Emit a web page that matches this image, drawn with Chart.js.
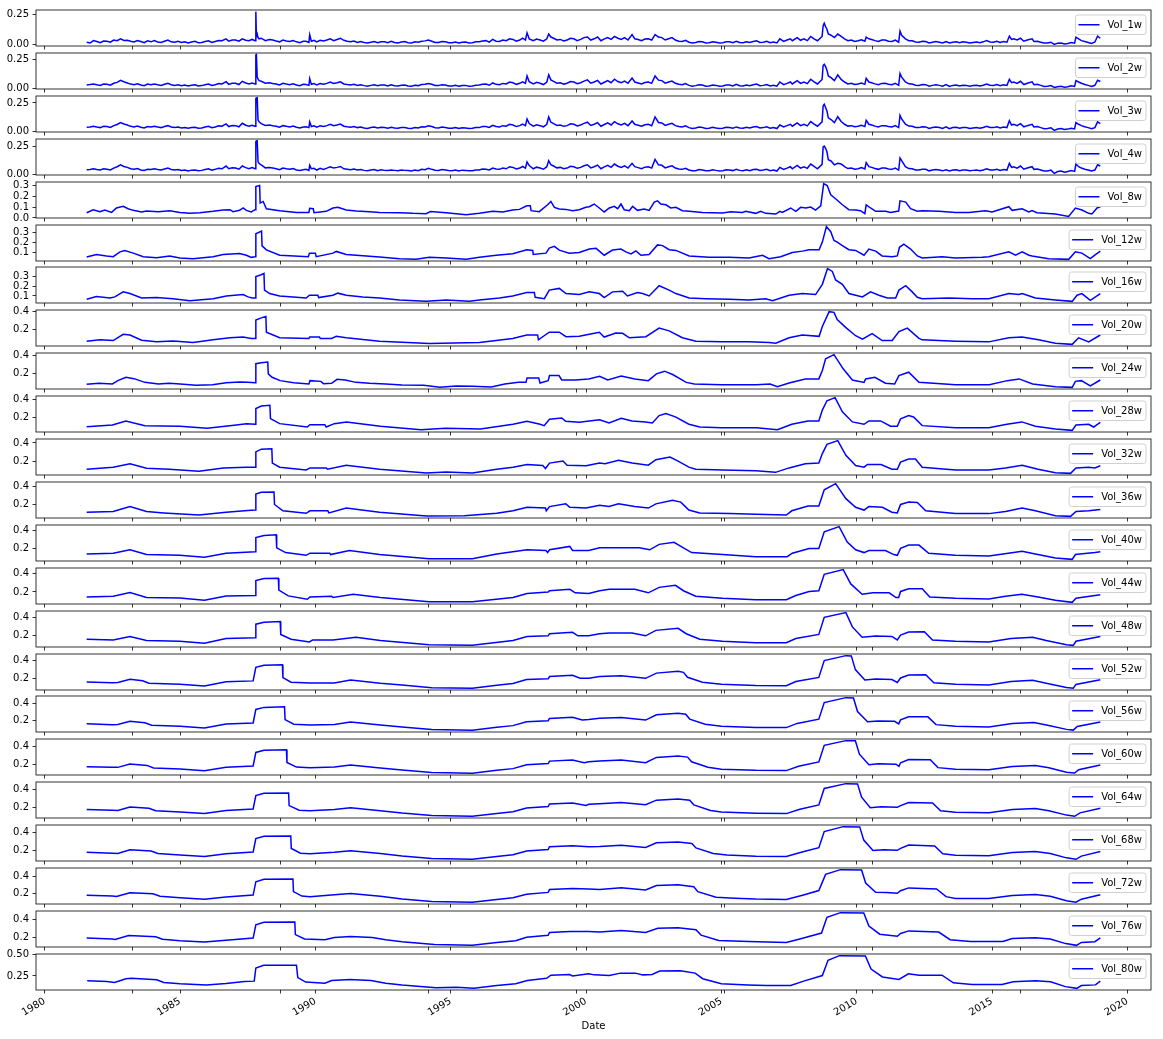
<!DOCTYPE html>
<html>
<head>
<meta charset="utf-8">
<script src="https://cdn.jsdelivr.net/npm/chart.js@4.4.0/dist/chart.umd.min.js"></script>
<style>
  body { margin: 0; background: #fff; }
  #wrap { position: relative; width: 1163px; height: 1039px; overflow: hidden; }
  #wrap canvas { position: absolute; left: 0; }
</style>
</head>
<body>
<div id="wrap"></div>
<script>
// Values (x = decimal year)

// Short windows share one date grid
const shortDates = [
  1981.55, 1981.80,
  1982.05, 1982.30, 1982.55, 1982.80,
  1983.05, 1983.30, 1983.55, 1983.80,
  1984.05, 1984.30, 1984.55, 1984.80,
  1985.05, 1985.30, 1985.55, 1985.80,
  1986.05, 1986.30, 1986.55, 1986.70, 1986.80,
  1987.05, 1987.30, 1987.55, 1987.77, 1987.80, 1987.82, 1987.85, 1987.88, 1987.92, 1988.00,
  1988.30, 1988.55, 1988.80,
  1989.05, 1989.30, 1989.55, 1989.76, 1989.79, 1989.85,
  1990.05, 1990.30, 1990.55, 1990.80,
  1991.05, 1991.30, 1991.55, 1991.80,
  1992.05, 1992.30, 1992.55, 1992.80,
  1993.05, 1993.30, 1993.55, 1993.80,
  1994.05, 1994.30, 1994.55, 1994.80,
  1995.05, 1995.30, 1995.55, 1995.80,
  1996.05, 1996.30, 1996.55, 1996.80,
  1997.05, 1997.30, 1997.55, 1997.76, 1997.82, 1997.90,
  1998.05, 1998.30, 1998.55, 1998.62, 1998.70, 1998.80,
  1999.05, 1999.30, 1999.55, 1999.80,
  2000.05, 2000.30, 2000.55, 2000.80,
  2001.05, 2001.30, 2001.55, 2001.70, 2001.80,
  2002.05, 2002.30, 2002.55, 2002.80,
  2003.05, 2003.30, 2003.55, 2003.80,
  2004.05, 2004.30, 2004.55, 2004.80,
  2005.05, 2005.30, 2005.55, 2005.80,
  2006.05, 2006.30, 2006.55, 2006.80,
  2007.05, 2007.16, 2007.30, 2007.55, 2007.62, 2007.80,
  2008.05, 2008.30, 2008.55, 2008.72, 2008.76, 2008.80, 2008.85, 2008.90, 2008.95,
  2009.05, 2009.30, 2009.55, 2009.80,
  2010.05, 2010.30, 2010.35, 2010.45, 2010.55, 2010.80,
  2011.05, 2011.30, 2011.55, 2011.60, 2011.66, 2011.80,
  2012.05, 2012.30, 2012.55, 2012.80,
  2013.05, 2013.30, 2013.55, 2013.80,
  2014.05, 2014.30, 2014.55, 2014.80,
  2015.05, 2015.30, 2015.55, 2015.64, 2015.72, 2015.80,
  2016.05, 2016.30, 2016.48, 2016.55, 2016.80,
  2017.05, 2017.30, 2017.55, 2017.80,
  2018.05, 2018.10, 2018.20, 2018.30, 2018.55, 2018.80, 2018.90, 2019.00
];

// in-between dates, for the week-to-week wobble of the short windows
const shortMidDates = [
  1981.675, 1981.925,
  1982.175, 1982.425, 1982.675, 1982.925,
  1983.175, 1983.425, 1983.675, 1983.925,
  1984.175, 1984.425, 1984.675, 1984.925,
  1985.175, 1985.425, 1985.675, 1985.925,
  1986.175, 1986.425, 1986.925,
  1987.175, 1987.425, 1987.66, 1988.15,
  1988.425, 1988.675, 1988.925,
  1989.175, 1989.425, 1989.655, 1989.95,
  1990.175, 1990.425, 1990.675, 1990.925,
  1991.175, 1991.425, 1991.675, 1991.925,
  1992.175, 1992.425, 1992.675, 1992.925,
  1993.175, 1993.425, 1993.675, 1993.925,
  1994.175, 1994.425, 1994.675, 1994.925,
  1995.175, 1995.425, 1995.675, 1995.925,
  1996.175, 1996.425, 1996.675, 1996.925,
  1997.175, 1997.425, 1997.655,
  1998.175, 1998.425, 1998.925,
  1999.175, 1999.425, 1999.675, 1999.925,
  2000.175, 2000.425, 2000.675, 2000.925,
  2001.175, 2001.425, 2001.925,
  2002.175, 2002.425, 2002.675, 2002.925,
  2003.175, 2003.425, 2003.675, 2003.925,
  2004.175, 2004.425, 2004.675, 2004.925,
  2005.175, 2005.425, 2005.675, 2005.925,
  2006.175, 2006.425, 2006.675, 2006.925,
  2007.425, 2007.925,
  2008.175, 2008.425,
  2009.175, 2009.425, 2009.675, 2009.925,
  2010.175, 2010.675, 2010.925,
  2011.175, 2011.425, 2011.925,
  2012.175, 2012.425, 2012.675, 2012.925,
  2013.175, 2013.425, 2013.675, 2013.925,
  2014.175, 2014.425, 2014.675, 2014.925,
  2015.175, 2015.425, 2015.925,
  2016.175, 2016.675, 2016.925,
  2017.175, 2017.425, 2017.675, 2017.925,
  2018.425, 2018.675
];

const vol1w = [
  0.022, 0.035,
  0.018, 0.030, 0.040, 0.050,
  0.038, 0.024, 0.028, 0.033,
  0.035, 0.020, 0.040, 0.022,
  0.020, 0.015, 0.030, 0.020,
  0.033, 0.028, 0.034, 0.050, 0.030,
  0.040, 0.050, 0.034, 0.035, 0.276, 0.070, 0.090, 0.060, 0.050, 0.055,
  0.045, 0.032, 0.040,
  0.028, 0.025, 0.030, 0.020, 0.084, 0.030,
  0.025, 0.032, 0.050, 0.045,
  0.038, 0.025, 0.020, 0.020,
  0.022, 0.018, 0.025, 0.030,
  0.016, 0.028, 0.015, 0.022,
  0.033, 0.030, 0.020, 0.026,
  0.018, 0.015, 0.024, 0.018,
  0.026, 0.035, 0.045, 0.028,
  0.034, 0.045, 0.040, 0.040, 0.100, 0.050,
  0.035, 0.040, 0.050, 0.090, 0.065, 0.055,
  0.045, 0.040, 0.050, 0.045,
  0.065, 0.050, 0.034, 0.060,
  0.070, 0.045, 0.040, 0.085, 0.050,
  0.035, 0.050, 0.085, 0.060,
  0.050, 0.040, 0.028, 0.022,
  0.020, 0.026, 0.018, 0.022,
  0.018, 0.025, 0.030, 0.018,
  0.020, 0.034, 0.022, 0.018,
  0.016, 0.050, 0.028, 0.050, 0.034, 0.060,
  0.050, 0.070, 0.034, 0.070, 0.160, 0.180, 0.150, 0.130, 0.090,
  0.080, 0.090, 0.050, 0.040,
  0.034, 0.030, 0.064, 0.050, 0.045, 0.028,
  0.040, 0.028, 0.022, 0.115, 0.080, 0.050,
  0.034, 0.022, 0.028, 0.022,
  0.022, 0.028, 0.022, 0.018,
  0.022, 0.020, 0.018, 0.035,
  0.022, 0.020, 0.022, 0.073, 0.045, 0.050,
  0.055, 0.040, 0.050, 0.028, 0.022,
  0.015, 0.004, 0.015, 0.012,
  0.014, 0.064, 0.050, 0.035, 0.020, 0.024, 0.073, 0.055
];
const vol1wMid = [
  0.015, 0.028,
  0.032, 0.022, 0.034, 0.036,
  0.030, 0.036, 0.018, 0.025,
  0.024, 0.030, 0.025, 0.030,
  0.026, 0.024, 0.018, 0.028,
  0.020, 0.036, 0.040,
  0.030, 0.038, 0.045, 0.035,
  0.040, 0.025, 0.032,
  0.035, 0.018, 0.030, 0.038,
  0.038, 0.040, 0.035, 0.055,
  0.030, 0.032, 0.028, 0.015,
  0.028, 0.025, 0.018, 0.020,
  0.024, 0.018, 0.025, 0.030,
  0.040, 0.020, 0.028, 0.018,
  0.024, 0.022, 0.016, 0.025,
  0.032, 0.022, 0.030, 0.040,
  0.050, 0.030, 0.055,
  0.048, 0.030, 0.040,
  0.032, 0.055, 0.035, 0.060,
  0.040, 0.065, 0.050, 0.045,
  0.055, 0.060, 0.045,
  0.048, 0.040, 0.065, 0.040,
  0.060, 0.030, 0.038, 0.015,
  0.028, 0.016, 0.026, 0.015,
  0.026, 0.018, 0.020, 0.026,
  0.028, 0.020, 0.030, 0.024,
  0.040, 0.038,
  0.035, 0.050,
  0.060, 0.070, 0.035, 0.028,
  0.042, 0.035, 0.040,
  0.030, 0.040, 0.035,
  0.024, 0.030, 0.016, 0.028,
  0.016, 0.015, 0.026, 0.025,
  0.016, 0.024, 0.025, 0.024,
  0.030, 0.028, 0.040,
  0.030, 0.030, 0.015,
  0.022, 0.014, 0.008, 0.020,
  0.028, 0.012
];

const vol2w = [
  0.032, 0.041,
  0.029, 0.038, 0.047, 0.073,
  0.050, 0.035, 0.032, 0.041,
  0.041, 0.029, 0.047, 0.029,
  0.027, 0.024, 0.035, 0.027,
  0.041, 0.035, 0.041, 0.061, 0.038,
  0.047, 0.064, 0.041, 0.041, 0.290, 0.293, 0.100, 0.085, 0.070, 0.064,
  0.052, 0.041, 0.047,
  0.035, 0.032, 0.038, 0.029, 0.087, 0.038,
  0.032, 0.038, 0.058, 0.052,
  0.041, 0.032, 0.029, 0.027,
  0.029, 0.027, 0.032, 0.035,
  0.024, 0.032, 0.022, 0.027,
  0.038, 0.038, 0.027, 0.032,
  0.024, 0.022, 0.029, 0.024,
  0.032, 0.041, 0.050, 0.035,
  0.041, 0.052, 0.047, 0.047, 0.110, 0.061,
  0.041, 0.047, 0.058, 0.120, 0.076, 0.064,
  0.052, 0.047, 0.058, 0.052,
  0.076, 0.058, 0.041, 0.070,
  0.082, 0.052, 0.047, 0.093, 0.058,
  0.041, 0.058, 0.110, 0.070,
  0.058, 0.047, 0.035, 0.029,
  0.027, 0.032, 0.024, 0.029,
  0.024, 0.032, 0.038, 0.024,
  0.027, 0.041, 0.029, 0.024,
  0.022, 0.058, 0.035, 0.058, 0.041, 0.070,
  0.058, 0.082, 0.041, 0.080, 0.200, 0.210, 0.190, 0.160, 0.110,
  0.095, 0.120, 0.058, 0.047,
  0.041, 0.038, 0.090, 0.058, 0.052, 0.035,
  0.047, 0.035, 0.029, 0.131, 0.100, 0.058,
  0.041, 0.029, 0.035, 0.029,
  0.029, 0.035, 0.029, 0.024,
  0.029, 0.027, 0.024, 0.041,
  0.029, 0.027, 0.029, 0.080, 0.052, 0.058,
  0.064, 0.047, 0.060, 0.035, 0.029,
  0.022, 0.012, 0.022, 0.018,
  0.020, 0.070, 0.058, 0.047, 0.029, 0.030, 0.073, 0.062
];
const vol2wMid = [
  0.036, 0.034,
  0.040, 0.030, 0.055, 0.060,
  0.040, 0.042, 0.026, 0.034,
  0.034, 0.038, 0.034, 0.034,
  0.032, 0.030, 0.024, 0.034,
  0.028, 0.044, 0.048,
  0.036, 0.050, 0.050, 0.048,
  0.046, 0.032, 0.040,
  0.042, 0.026, 0.036, 0.045,
  0.044, 0.046, 0.045, 0.060,
  0.036, 0.038, 0.034, 0.022,
  0.034, 0.032, 0.024, 0.026,
  0.030, 0.024, 0.030, 0.036,
  0.045, 0.028, 0.034, 0.024,
  0.030, 0.028, 0.022, 0.030,
  0.038, 0.030, 0.038, 0.046,
  0.058, 0.038, 0.060,
  0.055, 0.036, 0.048,
  0.040, 0.062, 0.044, 0.066,
  0.048, 0.072, 0.056, 0.052,
  0.062, 0.066, 0.050,
  0.054, 0.046, 0.074, 0.048,
  0.066, 0.038, 0.044, 0.022,
  0.034, 0.022, 0.032, 0.021,
  0.032, 0.024, 0.026, 0.032,
  0.034, 0.026, 0.036, 0.030,
  0.046, 0.046,
  0.044, 0.060,
  0.070, 0.080, 0.042, 0.036,
  0.050, 0.042, 0.046,
  0.038, 0.046, 0.042,
  0.030, 0.036, 0.022, 0.034,
  0.022, 0.020, 0.032, 0.030,
  0.022, 0.030, 0.030, 0.030,
  0.036, 0.034, 0.046,
  0.036, 0.038, 0.020,
  0.028, 0.018, 0.014, 0.026,
  0.036, 0.020
];

const vol3w = [
  0.038, 0.047,
  0.035, 0.044, 0.052, 0.079,
  0.058, 0.041, 0.038, 0.044,
  0.047, 0.035, 0.052, 0.035,
  0.032, 0.029, 0.038, 0.032,
  0.047, 0.041, 0.047, 0.067, 0.044,
  0.052, 0.073, 0.047, 0.047, 0.290, 0.294, 0.296, 0.100, 0.085, 0.070,
  0.058, 0.047, 0.052,
  0.041, 0.038, 0.041, 0.035, 0.085, 0.044,
  0.038, 0.044, 0.064, 0.058,
  0.047, 0.038, 0.035, 0.032,
  0.035, 0.032, 0.035, 0.038,
  0.029, 0.035, 0.027, 0.032,
  0.041, 0.044, 0.032, 0.035,
  0.029, 0.027, 0.032, 0.029,
  0.035, 0.044, 0.055, 0.041,
  0.047, 0.058, 0.052, 0.052, 0.110, 0.070,
  0.047, 0.052, 0.064, 0.128, 0.082, 0.070,
  0.058, 0.052, 0.064, 0.058,
  0.082, 0.064, 0.047, 0.076,
  0.087, 0.058, 0.052, 0.093, 0.064,
  0.047, 0.064, 0.128, 0.076,
  0.064, 0.052, 0.041, 0.035,
  0.032, 0.035, 0.029, 0.032,
  0.029, 0.035, 0.041, 0.029,
  0.032, 0.044, 0.035, 0.029,
  0.027, 0.058, 0.041, 0.064, 0.047, 0.076,
  0.064, 0.087, 0.047, 0.085, 0.225, 0.238, 0.210, 0.180, 0.120,
  0.105, 0.130, 0.064, 0.052,
  0.047, 0.044, 0.099, 0.064, 0.058, 0.041,
  0.052, 0.041, 0.035, 0.142, 0.110, 0.064,
  0.047, 0.035, 0.041, 0.035,
  0.035, 0.041, 0.035, 0.029,
  0.035, 0.032, 0.029, 0.047,
  0.035, 0.032, 0.035, 0.096, 0.058, 0.064,
  0.070, 0.052, 0.064, 0.041, 0.035,
  0.027, 0.011, 0.027, 0.022,
  0.024, 0.079, 0.064, 0.052, 0.035, 0.035, 0.085, 0.070
];
const vol3wMid = [
  0.040, 0.040,
  0.046, 0.036, 0.062, 0.066,
  0.046, 0.048, 0.032, 0.040,
  0.040, 0.044, 0.040, 0.040,
  0.036, 0.035, 0.029, 0.040,
  0.034, 0.050, 0.054,
  0.042, 0.056, 0.056, 0.054,
  0.052, 0.038, 0.046,
  0.048, 0.032, 0.042, 0.050,
  0.050, 0.052, 0.052, 0.066,
  0.042, 0.044, 0.040, 0.028,
  0.040, 0.038, 0.030, 0.032,
  0.036, 0.030, 0.036, 0.042,
  0.050, 0.034, 0.040, 0.030,
  0.036, 0.034, 0.028, 0.036,
  0.044, 0.036, 0.044, 0.052,
  0.064, 0.044, 0.066,
  0.060, 0.042, 0.054,
  0.046, 0.068, 0.050, 0.072,
  0.054, 0.078, 0.062, 0.058,
  0.068, 0.072, 0.056,
  0.060, 0.052, 0.080, 0.054,
  0.072, 0.044, 0.050, 0.028,
  0.040, 0.028, 0.038, 0.027,
  0.038, 0.030, 0.032, 0.038,
  0.040, 0.032, 0.042, 0.036,
  0.052, 0.052,
  0.050, 0.066,
  0.078, 0.088, 0.048, 0.042,
  0.056, 0.048, 0.052,
  0.044, 0.052, 0.048,
  0.036, 0.042, 0.028, 0.040,
  0.028, 0.026, 0.038, 0.036,
  0.028, 0.036, 0.036, 0.036,
  0.042, 0.040, 0.052,
  0.042, 0.044, 0.026,
  0.034, 0.022, 0.018, 0.030,
  0.042, 0.026
];

const vol4w = [
  0.044, 0.052,
  0.041, 0.047, 0.058, 0.087,
  0.064, 0.047, 0.041, 0.047,
  0.052, 0.041, 0.058, 0.041,
  0.038, 0.032, 0.041, 0.038,
  0.052, 0.047, 0.052, 0.076, 0.052,
  0.058, 0.076, 0.052, 0.052, 0.290, 0.295, 0.297, 0.115, 0.099, 0.085,
  0.064, 0.052, 0.058,
  0.047, 0.041, 0.044, 0.038, 0.082, 0.052,
  0.041, 0.047, 0.070, 0.064,
  0.052, 0.044, 0.041, 0.038,
  0.041, 0.035, 0.038, 0.041,
  0.035, 0.038, 0.032, 0.035,
  0.044, 0.047, 0.038, 0.041,
  0.035, 0.032, 0.038, 0.035,
  0.041, 0.047, 0.058, 0.047,
  0.052, 0.064, 0.058, 0.058, 0.111, 0.080,
  0.052, 0.058, 0.070, 0.122, 0.087, 0.076,
  0.064, 0.058, 0.070, 0.064,
  0.087, 0.070, 0.052, 0.082,
  0.093, 0.064, 0.058, 0.099, 0.070,
  0.052, 0.070, 0.134, 0.082,
  0.070, 0.058, 0.047, 0.041,
  0.035, 0.041, 0.035, 0.038,
  0.035, 0.041, 0.047, 0.035,
  0.035, 0.047, 0.041, 0.035,
  0.032, 0.064, 0.047, 0.070, 0.052, 0.082,
  0.070, 0.093, 0.052, 0.090, 0.242, 0.250, 0.230, 0.200, 0.130,
  0.120, 0.100, 0.070, 0.058,
  0.052, 0.050, 0.105, 0.070, 0.064, 0.047,
  0.058, 0.047, 0.041, 0.146, 0.122, 0.070,
  0.052, 0.041, 0.047, 0.041,
  0.041, 0.044, 0.041, 0.035,
  0.041, 0.038, 0.035, 0.052,
  0.041, 0.038, 0.041, 0.099, 0.064, 0.070,
  0.076, 0.058, 0.070, 0.047, 0.041,
  0.032, 0.012, 0.032, 0.029,
  0.029, 0.093, 0.070, 0.058, 0.041, 0.041, 0.087, 0.076
];
const vol4wMid = [
  0.046, 0.046,
  0.052, 0.042, 0.070, 0.072,
  0.052, 0.054, 0.038, 0.046,
  0.046, 0.050, 0.046, 0.046,
  0.042, 0.040, 0.034, 0.046,
  0.040, 0.056, 0.060,
  0.048, 0.062, 0.062, 0.060,
  0.058, 0.044, 0.052,
  0.054, 0.038, 0.048, 0.056,
  0.056, 0.058, 0.058, 0.072,
  0.048, 0.050, 0.046, 0.034,
  0.046, 0.044, 0.036, 0.038,
  0.042, 0.036, 0.042, 0.048,
  0.056, 0.040, 0.046, 0.036,
  0.042, 0.040, 0.034, 0.042,
  0.050, 0.042, 0.050, 0.058,
  0.070, 0.050, 0.072,
  0.066, 0.048, 0.060,
  0.052, 0.074, 0.056, 0.078,
  0.060, 0.084, 0.068, 0.064,
  0.074, 0.078, 0.062,
  0.066, 0.058, 0.086, 0.060,
  0.078, 0.050, 0.056, 0.034,
  0.046, 0.034, 0.044, 0.033,
  0.044, 0.036, 0.038, 0.044,
  0.046, 0.038, 0.048, 0.042,
  0.058, 0.058,
  0.056, 0.072,
  0.086, 0.094, 0.054, 0.048,
  0.062, 0.054, 0.058,
  0.050, 0.058, 0.054,
  0.042, 0.048, 0.034, 0.046,
  0.034, 0.032, 0.044, 0.042,
  0.034, 0.042, 0.042, 0.042,
  0.048, 0.046, 0.058,
  0.048, 0.050, 0.032,
  0.040, 0.028, 0.022, 0.036,
  0.048, 0.032
];

// Longer windows as [year, value] pairs
const vol8w = [[1981.55,0.049],[1981.79,0.077],[1982.04,0.059],[1982.22,0.074],[1982.47,0.052],[1982.65,0.093],[1982.90,0.108],[1983.08,0.086],[1983.27,0.071],[1983.58,0.056],[1983.76,0.065],[1984.19,0.059],[1984.62,0.068],[1984.99,0.052],[1985.36,0.043],[1985.73,0.049],[1986.22,0.062],[1986.59,0.074],[1986.84,0.077],[1986.96,0.059],[1987.20,0.071],[1987.33,0.093],[1987.45,0.071],[1987.63,0.056],[1987.77,0.077],[1987.80,0.293],[1987.94,0.302],[1987.96,0.139],[1988.07,0.154],[1988.19,0.086],[1988.68,0.068],[1989.30,0.052],[1989.76,0.052],[1989.79,0.090],[1989.92,0.086],[1989.95,0.049],[1990.40,0.062],[1990.65,0.093],[1990.83,0.099],[1991.14,0.074],[1991.51,0.065],[1992.00,0.059],[1992.37,0.052],[1993.11,0.049],[1993.60,0.043],[1994.09,0.040],[1994.25,0.060],[1994.83,0.049],[1995.57,0.031],[1996.06,0.043],[1996.55,0.062],[1996.92,0.056],[1997.29,0.074],[1997.54,0.080],[1997.81,0.114],[1997.94,0.114],[1997.97,0.068],[1998.27,0.059],[1998.58,0.123],[1998.70,0.154],[1998.83,0.099],[1999.01,0.083],[1999.26,0.080],[1999.50,0.068],[1999.75,0.077],[1999.99,0.099],[2000.12,0.105],[2000.30,0.130],[2000.49,0.093],[2000.67,0.056],[2000.86,0.093],[2001.04,0.108],[2001.17,0.086],[2001.29,0.130],[2001.41,0.077],[2001.60,0.068],[2001.72,0.108],[2001.90,0.071],[2002.15,0.083],[2002.33,0.071],[2002.52,0.148],[2002.64,0.160],[2002.76,0.130],[2002.95,0.123],[2003.13,0.093],[2003.32,0.099],[2003.56,0.068],[2003.81,0.062],[2004.30,0.052],[2005.04,0.046],[2005.35,0.059],[2005.78,0.052],[2005.90,0.062],[2006.27,0.043],[2006.45,0.062],[2006.64,0.043],[2007.01,0.037],[2007.16,0.062],[2007.25,0.052],[2007.56,0.093],[2007.75,0.062],[2007.93,0.099],[2008.12,0.093],[2008.30,0.102],[2008.48,0.074],[2008.67,0.114],[2008.78,0.320],[2008.91,0.302],[2009.04,0.216],[2009.22,0.179],[2009.47,0.123],[2009.71,0.077],[2009.96,0.074],[2010.14,0.068],[2010.30,0.040],[2010.35,0.123],[2010.51,0.093],[2010.70,0.062],[2011.07,0.062],[2011.25,0.052],[2011.55,0.065],[2011.60,0.160],[2011.81,0.148],[2011.99,0.086],[2012.24,0.062],[2012.42,0.068],[2013.04,0.062],[2013.65,0.052],[2014.14,0.052],[2014.76,0.068],[2015.00,0.056],[2015.62,0.105],[2015.74,0.071],[2016.11,0.086],[2016.36,0.056],[2016.48,0.068],[2016.66,0.049],[2017.34,0.037],[2017.83,0.015],[2018.08,0.093],[2018.32,0.074],[2018.57,0.043],[2018.69,0.037],[2018.88,0.093],[2019.00,0.105]];

const vol12w = [[1981.55,0.059],[1981.91,0.083],[1982.28,0.069],[1982.53,0.062],[1982.78,0.110],[1982.96,0.124],[1983.27,0.097],[1983.64,0.062],[1984.13,0.052],[1984.62,0.069],[1984.99,0.048],[1985.48,0.042],[1986.22,0.062],[1986.59,0.083],[1987.20,0.093],[1987.45,0.076],[1987.63,0.055],[1987.78,0.060],[1987.80,0.290],[1988.01,0.317],[1988.03,0.170],[1988.19,0.130],[1988.68,0.076],[1989.74,0.062],[1989.78,0.097],[1990.00,0.097],[1990.03,0.062],[1990.65,0.097],[1990.77,0.114],[1991.14,0.083],[1991.88,0.069],[1992.37,0.059],[1993.11,0.042],[1993.72,0.035],[1994.21,0.056],[1994.83,0.048],[1995.57,0.035],[1996.06,0.056],[1996.68,0.076],[1997.29,0.090],[1997.81,0.131],[1998.03,0.124],[1998.05,0.083],[1998.52,0.097],[1998.64,0.148],[1998.83,0.165],[1999.01,0.127],[1999.38,0.097],[1999.75,0.103],[2000.12,0.138],[2000.37,0.145],[2000.67,0.076],[2000.98,0.128],[2001.29,0.138],[2001.47,0.110],[2001.66,0.090],[2001.84,0.120],[2002.03,0.076],[2002.33,0.083],[2002.64,0.179],[2002.83,0.172],[2003.07,0.131],[2003.32,0.124],[2003.81,0.069],[2004.55,0.055],[2005.29,0.055],[2006.02,0.048],[2006.52,0.076],[2006.76,0.042],[2007.19,0.062],[2007.62,0.103],[2007.99,0.117],[2008.24,0.131],[2008.61,0.131],[2008.73,0.207],[2008.88,0.361],[2009.04,0.310],[2009.16,0.224],[2009.28,0.207],[2009.47,0.172],[2009.71,0.131],[2009.96,0.124],[2010.27,0.076],[2010.45,0.138],[2010.70,0.117],[2010.94,0.069],[2011.31,0.062],[2011.50,0.069],[2011.58,0.155],[2011.74,0.186],[2011.99,0.138],[2012.24,0.069],[2012.42,0.048],[2013.16,0.062],[2013.65,0.048],[2014.63,0.055],[2014.88,0.062],[2015.62,0.110],[2015.87,0.076],[2016.11,0.110],[2016.36,0.076],[2016.48,0.069],[2017.09,0.042],[2017.83,0.035],[2018.08,0.110],[2018.32,0.097],[2018.63,0.042],[2018.82,0.083],[2019.00,0.117]];

const vol16w = [[1981.55,0.066],[1981.91,0.093],[1982.41,0.079],[1982.59,0.090],[1982.90,0.141],[1983.15,0.124],[1983.58,0.079],[1984.13,0.083],[1984.74,0.072],[1985.36,0.052],[1986.22,0.072],[1986.71,0.100],[1987.33,0.114],[1987.51,0.090],[1987.67,0.079],[1987.78,0.080],[1987.80,0.297],[1988.00,0.314],[1988.10,0.328],[1988.12,0.159],[1988.31,0.124],[1988.68,0.100],[1989.66,0.079],[1989.78,0.107],[1990.09,0.107],[1990.12,0.083],[1990.65,0.107],[1990.83,0.128],[1991.14,0.107],[1991.75,0.090],[1992.37,0.079],[1993.11,0.059],[1994.09,0.045],[1994.83,0.059],[1995.69,0.045],[1996.06,0.059],[1996.80,0.079],[1997.29,0.100],[1997.81,0.134],[1998.09,0.134],[1998.12,0.086],[1998.46,0.072],[1998.64,0.159],[1999.01,0.176],[1999.26,0.124],[1999.75,0.114],[2000.12,0.141],[2000.49,0.124],[2000.67,0.083],[2000.98,0.141],[2001.35,0.148],[2001.53,0.100],[2001.90,0.134],[2002.09,0.124],[2002.33,0.100],[2002.70,0.203],[2003.07,0.159],[2003.32,0.124],[2003.81,0.079],[2004.43,0.072],[2005.29,0.066],[2006.02,0.059],[2006.64,0.072],[2006.89,0.052],[2007.50,0.107],[2007.99,0.124],[2008.48,0.114],[2008.73,0.217],[2008.92,0.376],[2009.10,0.348],[2009.22,0.262],[2009.47,0.217],[2009.71,0.124],[2009.96,0.107],[2010.21,0.090],[2010.51,0.141],[2010.82,0.107],[2011.13,0.079],[2011.44,0.079],[2011.56,0.159],[2011.81,0.203],[2012.05,0.141],[2012.24,0.086],[2012.42,0.072],[2013.41,0.079],[2014.27,0.072],[2014.88,0.072],[2015.62,0.124],[2015.99,0.114],[2016.11,0.124],[2016.60,0.079],[2017.34,0.059],[2017.96,0.045],[2018.14,0.107],[2018.32,0.124],[2018.63,0.055],[2019.00,0.124]];

const vol20w = [[1981.55,0.069],[1982.04,0.084],[1982.53,0.076],[1982.90,0.146],[1983.15,0.138],[1983.58,0.080],[1984.13,0.061],[1984.74,0.072],[1985.48,0.053],[1986.22,0.084],[1986.84,0.107],[1987.33,0.115],[1987.63,0.100],[1987.78,0.100],[1987.80,0.307],[1988.00,0.330],[1988.17,0.346],[1988.19,0.169],[1988.68,0.107],[1989.76,0.100],[1989.79,0.115],[1990.15,0.115],[1990.18,0.100],[1990.60,0.100],[1990.77,0.123],[1991.14,0.107],[1992.37,0.069],[1993.20,0.058],[1994.21,0.042],[1995.10,0.047],[1996.06,0.053],[1997.29,0.100],[1997.81,0.138],[1998.21,0.138],[1998.24,0.084],[1998.64,0.169],[1999.01,0.169],[1999.26,0.119],[1999.75,0.123],[2000.12,0.146],[2000.49,0.169],[2000.67,0.115],[2001.10,0.161],[2001.35,0.157],[2001.60,0.107],[2002.21,0.119],[2002.70,0.215],[2003.07,0.184],[2003.56,0.107],[2004.06,0.069],[2005.04,0.061],[2006.02,0.061],[2006.76,0.053],[2007.01,0.046],[2007.50,0.107],[2007.99,0.138],[2008.61,0.123],[2008.73,0.234],[2008.98,0.400],[2009.16,0.392],[2009.28,0.311],[2009.59,0.223],[2009.96,0.130],[2010.21,0.092],[2010.57,0.153],[2010.94,0.076],[2011.31,0.076],[2011.56,0.176],[2011.87,0.215],[2012.30,0.100],[2012.42,0.084],[2013.65,0.069],[2014.88,0.061],[2015.62,0.107],[2016.11,0.115],[2016.72,0.084],[2017.34,0.046],[2017.96,0.033],[2018.20,0.107],[2018.57,0.061],[2019.00,0.138]];

const vol24w = [[1981.55,0.078],[1982.00,0.090],[1982.50,0.082],[1982.70,0.119],[1983.00,0.156],[1983.30,0.141],[1983.70,0.100],[1984.20,0.082],[1984.60,0.090],[1985.00,0.082],[1985.60,0.067],[1986.20,0.074],[1986.70,0.097],[1987.20,0.104],[1987.50,0.100],[1987.78,0.095],[1987.80,0.305],[1988.00,0.316],[1988.24,0.323],[1988.26,0.193],[1988.40,0.156],[1988.70,0.119],[1989.20,0.097],[1989.76,0.082],[1989.80,0.119],[1990.20,0.111],[1990.30,0.086],[1990.60,0.090],[1990.80,0.134],[1991.10,0.126],[1991.50,0.100],[1992.00,0.090],[1992.60,0.082],[1993.20,0.071],[1994.00,0.067],[1994.60,0.045],[1995.20,0.060],[1995.80,0.056],[1996.50,0.048],[1997.00,0.082],[1997.50,0.100],[1997.78,0.100],[1997.82,0.149],[1998.25,0.149],[1998.30,0.093],[1998.60,0.119],[1998.65,0.175],[1999.00,0.175],[1999.10,0.126],[1999.60,0.126],[2000.10,0.138],[2000.50,0.167],[2000.80,0.126],[2001.30,0.171],[2001.80,0.138],[2002.30,0.119],[2002.60,0.193],[2002.90,0.223],[2003.20,0.186],[2003.70,0.100],[2004.00,0.082],[2005.00,0.074],[2006.30,0.074],[2006.80,0.082],[2007.07,0.052],[2007.50,0.093],[2008.10,0.138],[2008.60,0.138],[2008.73,0.230],[2008.85,0.360],[2009.16,0.405],[2009.50,0.249],[2009.84,0.126],[2010.27,0.100],[2010.33,0.138],[2010.67,0.156],[2011.06,0.090],[2011.40,0.082],[2011.56,0.175],[2011.92,0.212],[2012.30,0.100],[2013.65,0.074],[2014.90,0.074],[2015.56,0.119],[2016.00,0.138],[2016.50,0.082],[2017.34,0.052],[2017.96,0.045],[2018.08,0.111],[2018.30,0.119],[2018.63,0.060],[2019.00,0.126]];

const vol28w = [[1981.55,0.096],[1982.50,0.114],[1983.00,0.159],[1983.70,0.107],[1985.00,0.100],[1986.00,0.077],[1987.00,0.111],[1987.45,0.129],[1987.78,0.122],[1987.80,0.296],[1988.00,0.322],[1988.32,0.330],[1988.34,0.185],[1988.68,0.129],[1989.70,0.092],[1989.80,0.118],[1990.35,0.118],[1990.40,0.092],[1990.70,0.129],[1991.15,0.148],[1992.40,0.100],[1993.90,0.062],[1994.80,0.077],[1996.10,0.070],[1997.30,0.122],[1997.82,0.155],[1998.30,0.122],[1998.45,0.107],[1998.65,0.177],[1999.10,0.192],[1999.25,0.155],[1999.75,0.144],[2000.12,0.159],[2000.50,0.172],[2000.85,0.137],[2001.30,0.189],[2001.70,0.159],[2002.20,0.148],[2002.45,0.137],[2002.70,0.218],[2002.95,0.241],[2003.30,0.203],[2003.80,0.122],[2004.20,0.092],[2005.00,0.085],[2006.30,0.085],[2007.07,0.062],[2007.60,0.122],[2008.20,0.159],[2008.60,0.159],[2008.73,0.278],[2008.90,0.381],[2009.20,0.415],[2009.47,0.259],[2009.84,0.148],[2010.27,0.122],[2010.45,0.159],[2010.88,0.159],[2011.25,0.100],[2011.50,0.100],[2011.62,0.181],[2011.92,0.218],[2012.10,0.203],[2012.42,0.107],[2013.65,0.085],[2014.88,0.085],[2015.55,0.122],[2016.10,0.148],[2016.60,0.100],[2017.34,0.070],[2017.96,0.055],[2018.10,0.114],[2018.57,0.122],[2018.75,0.092],[2019.00,0.144]];

const vol32w = [[1981.55,0.110],[1982.53,0.133],[1983.15,0.170],[1983.76,0.121],[1984.60,0.110],[1985.70,0.088],[1986.60,0.125],[1987.45,0.133],[1987.78,0.133],[1987.80,0.301],[1988.00,0.331],[1988.39,0.335],[1988.41,0.178],[1988.68,0.133],[1989.66,0.103],[1989.80,0.125],[1990.40,0.125],[1990.45,0.110],[1991.14,0.155],[1992.37,0.110],[1994.10,0.069],[1994.83,0.080],[1995.80,0.069],[1996.70,0.110],[1997.30,0.133],[1997.82,0.163],[1998.40,0.151],[1998.50,0.118],[1998.65,0.178],[1999.15,0.200],[1999.30,0.155],[2000.00,0.148],[2000.50,0.180],[2000.70,0.170],[2001.20,0.208],[2001.70,0.178],[2002.30,0.155],[2002.58,0.215],[2003.10,0.245],[2003.40,0.200],[2003.80,0.133],[2004.05,0.110],[2005.04,0.103],[2006.27,0.095],[2007.00,0.076],[2007.50,0.125],[2008.10,0.170],[2008.60,0.178],[2008.73,0.283],[2008.90,0.384],[2009.30,0.425],[2009.60,0.264],[2009.96,0.151],[2010.27,0.133],[2010.40,0.163],[2010.90,0.163],[2011.30,0.110],[2011.50,0.110],[2011.62,0.189],[2011.92,0.223],[2012.17,0.223],[2012.42,0.133],[2013.65,0.103],[2014.88,0.103],[2015.50,0.125],[2016.11,0.155],[2016.70,0.110],[2017.34,0.073],[2017.90,0.065],[2018.10,0.125],[2018.57,0.133],[2018.80,0.125],[2019.00,0.148]];

const vol36w = [[1981.55,0.118],[1982.53,0.125],[1983.15,0.179],[1983.76,0.125],[1984.40,0.110],[1985.70,0.087],[1986.70,0.118],[1987.50,0.137],[1987.78,0.141],[1987.80,0.316],[1988.00,0.335],[1988.47,0.339],[1988.49,0.202],[1988.80,0.133],[1989.66,0.106],[1989.80,0.133],[1990.46,0.133],[1990.50,0.110],[1991.14,0.163],[1992.37,0.118],[1994.10,0.076],[1995.50,0.080],[1996.70,0.106],[1997.30,0.133],[1997.82,0.171],[1998.50,0.163],[1998.53,0.133],[1998.65,0.179],[1999.25,0.209],[1999.40,0.171],[2000.00,0.163],[2000.50,0.194],[2000.85,0.179],[2001.20,0.209],[2001.80,0.179],[2002.30,0.163],[2002.58,0.209],[2003.20,0.247],[2003.50,0.228],[2003.80,0.141],[2004.20,0.110],[2005.30,0.102],[2006.27,0.095],[2007.40,0.087],[2007.60,0.133],[2008.20,0.186],[2008.60,0.186],[2008.80,0.362],[2009.22,0.430],[2009.60,0.266],[2009.96,0.171],[2010.27,0.141],[2010.45,0.179],[2010.95,0.171],[2011.30,0.118],[2011.50,0.110],[2011.62,0.202],[2011.92,0.228],[2012.24,0.224],[2012.55,0.133],[2013.65,0.102],[2014.88,0.102],[2015.50,0.125],[2016.11,0.163],[2016.60,0.133],[2017.34,0.080],[2017.90,0.072],[2018.10,0.125],[2018.57,0.133],[2019.00,0.148]];

const vol40w = [[1981.55,0.138],[1982.53,0.146],[1983.15,0.184],[1983.76,0.131],[1984.99,0.123],[1985.90,0.101],[1986.70,0.146],[1987.78,0.161],[1987.80,0.319],[1988.10,0.342],[1988.55,0.349],[1988.57,0.206],[1988.90,0.153],[1989.66,0.123],[1989.80,0.146],[1990.53,0.146],[1990.56,0.131],[1991.26,0.176],[1992.37,0.131],[1994.20,0.086],[1995.80,0.086],[1996.70,0.138],[1997.82,0.184],[1998.52,0.176],[1998.58,0.153],[1998.65,0.184],[1999.40,0.221],[1999.50,0.176],[2000.10,0.176],[2000.50,0.206],[2001.35,0.206],[2001.97,0.206],[2002.35,0.184],[2002.70,0.244],[2003.25,0.266],[2003.55,0.214],[2003.90,0.153],[2005.04,0.131],[2006.27,0.108],[2007.43,0.108],[2007.62,0.146],[2008.24,0.199],[2008.60,0.199],[2008.80,0.383],[2009.35,0.440],[2009.65,0.270],[2009.96,0.184],[2010.27,0.153],[2010.45,0.176],[2011.06,0.176],[2011.37,0.131],[2011.50,0.123],[2011.62,0.199],[2011.92,0.236],[2012.30,0.236],[2012.66,0.146],[2013.65,0.123],[2014.88,0.116],[2015.60,0.146],[2016.11,0.168],[2016.60,0.138],[2017.34,0.093],[2017.96,0.078],[2018.08,0.131],[2018.80,0.153],[2019.00,0.161]];

const vol44w = [[1981.55,0.145],[1982.53,0.153],[1983.15,0.194],[1983.76,0.138],[1984.99,0.134],[1985.90,0.108],[1986.70,0.156],[1987.78,0.160],[1987.80,0.325],[1988.10,0.348],[1988.63,0.351],[1988.65,0.220],[1989.00,0.156],[1989.70,0.119],[1989.80,0.145],[1990.60,0.153],[1990.65,0.138],[1991.40,0.175],[1992.40,0.138],[1994.20,0.093],[1995.80,0.093],[1997.30,0.138],[1997.82,0.183],[1998.60,0.198],[1998.65,0.213],[1999.40,0.228],[1999.60,0.190],[2000.10,0.183],[2000.50,0.213],[2000.86,0.228],[2001.80,0.228],[2002.30,0.190],[2002.70,0.250],[2003.30,0.273],[2003.60,0.213],[2004.05,0.153],[2005.04,0.130],[2006.27,0.115],[2007.40,0.115],[2007.75,0.160],[2008.24,0.205],[2008.60,0.213],[2008.80,0.393],[2009.50,0.445],[2009.78,0.288],[2010.20,0.175],[2010.60,0.190],[2011.20,0.190],[2011.45,0.138],[2011.55,0.138],[2011.62,0.205],[2011.92,0.235],[2012.42,0.235],[2012.70,0.145],[2013.65,0.130],[2014.88,0.123],[2015.50,0.153],[2016.10,0.175],[2016.70,0.145],[2017.34,0.108],[2017.96,0.085],[2018.10,0.130],[2019.00,0.168]];

const vol48w = [[1981.55,0.158],[1982.53,0.150],[1983.15,0.188],[1983.76,0.143],[1984.99,0.135],[1985.90,0.113],[1986.70,0.165],[1987.78,0.173],[1987.80,0.323],[1988.10,0.345],[1988.70,0.353],[1988.72,0.210],[1989.10,0.158],[1989.78,0.128],[1989.90,0.150],[1990.65,0.150],[1991.50,0.180],[1992.40,0.143],[1994.20,0.098],[1995.80,0.090],[1997.30,0.143],[1997.82,0.188],[1998.60,0.195],[1998.65,0.218],[1999.50,0.233],[1999.70,0.195],[2000.10,0.195],[2000.50,0.218],[2000.86,0.225],[2001.70,0.225],[2002.20,0.195],[2002.58,0.255],[2003.40,0.278],[2003.70,0.218],[2004.20,0.158],[2005.04,0.135],[2006.27,0.120],[2007.40,0.120],[2007.75,0.165],[2008.60,0.210],[2008.80,0.398],[2009.60,0.450],[2009.84,0.293],[2010.20,0.180],[2010.70,0.192],[2011.30,0.188],[2011.50,0.150],[2011.62,0.203],[2011.92,0.236],[2012.50,0.240],[2012.80,0.150],[2013.65,0.135],[2014.88,0.128],[2015.70,0.165],[2016.50,0.180],[2017.00,0.143],[2017.75,0.098],[2018.00,0.090],[2018.10,0.135],[2019.00,0.188]];

const vol52w = [[1981.55,0.162],[1982.50,0.154],[1982.70,0.156],[1983.15,0.192],[1983.62,0.176],[1983.85,0.148],[1985.00,0.138],[1985.90,0.117],[1986.70,0.165],[1987.70,0.175],[1987.80,0.325],[1988.10,0.348],[1988.78,0.355],[1988.80,0.212],[1989.10,0.160],[1989.80,0.152],[1990.70,0.152],[1991.30,0.184],[1992.40,0.148],[1993.20,0.128],[1994.30,0.100],[1995.80,0.092],[1996.70,0.127],[1997.30,0.145],[1997.80,0.189],[1998.60,0.198],[1998.65,0.223],[1999.50,0.237],[1999.78,0.205],[2000.10,0.205],[2000.50,0.224],[2001.30,0.232],[2002.20,0.203],[2002.60,0.261],[2003.40,0.282],[2003.60,0.270],[2003.75,0.215],[2004.30,0.160],[2005.00,0.138],[2006.27,0.123],[2007.40,0.122],[2007.75,0.168],[2008.60,0.214],[2008.80,0.400],[2009.60,0.455],[2009.80,0.452],[2009.95,0.300],[2010.30,0.185],[2010.70,0.195],[2011.30,0.190],[2011.50,0.158],[2011.62,0.207],[2011.92,0.240],[2012.55,0.242],[2012.85,0.153],[2013.65,0.137],[2014.88,0.130],[2015.70,0.167],[2016.50,0.181],[2017.00,0.148],[2017.75,0.102],[2018.00,0.093],[2018.10,0.136],[2019.00,0.188]];

const vol56w = [[1981.55,0.167],[1982.50,0.158],[1982.70,0.160],[1983.15,0.197],[1983.70,0.180],[1983.95,0.152],[1985.00,0.141],[1985.90,0.121],[1986.70,0.165],[1987.70,0.177],[1987.80,0.328],[1988.10,0.351],[1988.86,0.358],[1988.88,0.215],[1989.20,0.163],[1989.80,0.155],[1990.70,0.160],[1991.30,0.187],[1992.40,0.153],[1993.20,0.131],[1994.30,0.103],[1995.80,0.094],[1996.70,0.128],[1997.30,0.147],[1997.80,0.190],[1998.60,0.202],[1998.65,0.228],[1999.50,0.241],[1999.86,0.210],[2000.10,0.215],[2000.50,0.229],[2001.30,0.239],[2002.20,0.209],[2002.60,0.268],[2003.40,0.286],[2003.68,0.275],[2003.83,0.220],[2004.40,0.162],[2005.00,0.140],[2006.27,0.127],[2007.40,0.125],[2007.80,0.172],[2008.60,0.219],[2008.80,0.405],[2009.60,0.460],[2009.88,0.455],[2010.03,0.305],[2010.40,0.190],[2010.80,0.200],[2011.40,0.195],[2011.55,0.166],[2011.62,0.211],[2011.92,0.245],[2012.63,0.245],[2012.93,0.158],[2013.65,0.140],[2014.88,0.133],[2015.75,0.170],[2016.55,0.183],[2017.05,0.152],[2017.75,0.105],[2018.00,0.097],[2018.15,0.137],[2019.00,0.188]];

const vol60w = [[1981.55,0.171],[1982.50,0.163],[1982.70,0.163],[1983.15,0.201],[1983.78,0.185],[1984.02,0.157],[1985.00,0.144],[1985.90,0.125],[1986.70,0.164],[1987.70,0.179],[1987.80,0.330],[1988.10,0.354],[1988.93,0.360],[1988.95,0.218],[1989.30,0.166],[1989.80,0.158],[1990.70,0.167],[1991.30,0.190],[1992.40,0.157],[1993.20,0.133],[1994.30,0.106],[1995.80,0.096],[1996.70,0.130],[1997.30,0.149],[1997.80,0.192],[1998.60,0.205],[1998.65,0.233],[1999.50,0.245],[1999.93,0.215],[2000.10,0.225],[2000.50,0.234],[2001.30,0.246],[2002.20,0.216],[2002.60,0.274],[2003.40,0.290],[2003.75,0.278],[2003.90,0.225],[2004.50,0.164],[2005.00,0.143],[2006.27,0.130],[2007.40,0.127],[2007.85,0.175],[2008.60,0.224],[2008.80,0.410],[2009.60,0.462],[2009.95,0.460],[2010.10,0.310],[2010.45,0.193],[2010.80,0.203],[2011.45,0.198],[2011.56,0.175],[2011.62,0.215],[2011.92,0.250],[2012.72,0.248],[2013.00,0.160],[2013.65,0.143],[2014.88,0.137],[2015.75,0.172],[2016.60,0.185],[2017.10,0.158],[2017.75,0.109],[2018.05,0.100],[2018.20,0.137],[2019.00,0.189]];

const vol64w = [[1981.55,0.176],[1982.50,0.167],[1982.70,0.165],[1983.15,0.205],[1983.85,0.190],[1984.10,0.162],[1985.00,0.147],[1985.90,0.130],[1986.70,0.164],[1987.70,0.182],[1987.80,0.332],[1988.10,0.358],[1989.01,0.362],[1989.03,0.220],[1989.40,0.168],[1989.80,0.162],[1990.70,0.175],[1991.30,0.195],[1992.40,0.162],[1993.20,0.136],[1994.30,0.108],[1995.80,0.099],[1996.70,0.132],[1997.30,0.151],[1997.80,0.193],[1998.60,0.209],[1998.65,0.238],[1999.50,0.250],[2000.00,0.222],[2000.10,0.235],[2000.50,0.240],[2001.30,0.254],[2002.20,0.229],[2002.60,0.281],[2003.40,0.294],[2003.83,0.280],[2003.98,0.228],[2004.60,0.165],[2005.00,0.147],[2006.27,0.134],[2007.40,0.130],[2007.90,0.178],[2008.60,0.228],[2008.80,0.412],[2009.60,0.466],[2010.03,0.463],[2010.18,0.315],[2010.50,0.196],[2010.90,0.207],[2011.50,0.200],[2011.62,0.220],[2011.92,0.255],[2012.80,0.250],[2013.10,0.162],[2013.65,0.144],[2014.88,0.140],[2015.75,0.175],[2016.60,0.187],[2017.10,0.163],[2017.75,0.113],[2018.05,0.100],[2018.25,0.138],[2019.00,0.189]];

const vol68w = [[1981.55,0.180],[1982.50,0.171],[1982.70,0.168],[1983.15,0.209],[1983.93,0.195],[1984.18,0.167],[1985.00,0.150],[1985.90,0.134],[1986.70,0.164],[1987.70,0.184],[1987.80,0.335],[1988.10,0.362],[1989.09,0.365],[1989.11,0.223],[1989.45,0.171],[1989.80,0.165],[1990.70,0.182],[1991.30,0.199],[1992.40,0.167],[1993.20,0.139],[1994.30,0.110],[1995.80,0.101],[1996.70,0.134],[1997.30,0.153],[1997.80,0.194],[1998.60,0.212],[1998.65,0.243],[1999.50,0.254],[2000.10,0.244],[2000.50,0.245],[2001.30,0.261],[2002.20,0.236],[2002.60,0.287],[2003.40,0.298],[2003.91,0.281],[2004.06,0.230],[2004.70,0.167],[2005.20,0.150],[2006.27,0.137],[2007.40,0.133],[2007.95,0.181],[2008.60,0.233],[2008.80,0.415],[2009.50,0.470],[2010.11,0.467],[2010.26,0.318],[2010.60,0.200],[2011.00,0.210],[2011.50,0.203],[2011.62,0.225],[2011.92,0.262],[2012.88,0.252],[2013.18,0.165],[2013.65,0.147],[2014.88,0.143],[2015.75,0.178],[2016.60,0.190],[2017.15,0.168],[2017.75,0.118],[2018.10,0.102],[2018.30,0.138],[2019.00,0.190]];

const vol72w = [[1981.55,0.185],[1982.50,0.175],[1982.65,0.170],[1983.15,0.213],[1984.00,0.200],[1984.26,0.172],[1985.00,0.154],[1985.90,0.138],[1986.70,0.163],[1987.70,0.186],[1987.80,0.337],[1988.10,0.365],[1989.17,0.367],[1989.19,0.225],[1989.50,0.174],[1989.80,0.168],[1990.70,0.188],[1991.30,0.203],[1992.40,0.172],[1993.20,0.142],[1994.30,0.113],[1995.80,0.103],[1996.70,0.135],[1997.30,0.155],[1997.80,0.195],[1998.60,0.216],[1998.65,0.248],[1999.50,0.259],[2000.10,0.254],[2000.50,0.250],[2001.30,0.268],[2002.20,0.243],[2002.60,0.294],[2003.40,0.302],[2003.98,0.281],[2004.13,0.225],[2004.80,0.162],[2005.50,0.150],[2006.27,0.140],[2007.40,0.135],[2008.00,0.184],[2008.60,0.237],[2008.85,0.420],[2009.40,0.474],[2010.18,0.470],[2010.33,0.322],[2010.70,0.218],[2011.10,0.215],[2011.50,0.206],[2011.62,0.235],[2011.92,0.267],[2012.95,0.255],[2013.30,0.168],[2013.65,0.148],[2014.88,0.146],[2015.75,0.180],[2016.60,0.191],[2017.15,0.173],[2017.75,0.122],[2018.10,0.104],[2018.30,0.139],[2019.00,0.190]];

const vol76w = [[1981.55,0.190],[1982.50,0.178],[1982.60,0.173],[1983.10,0.217],[1984.10,0.204],[1984.35,0.174],[1985.00,0.157],[1985.90,0.143],[1986.70,0.163],[1987.70,0.188],[1987.80,0.339],[1988.10,0.368],[1989.24,0.370],[1989.26,0.228],[1989.60,0.177],[1990.35,0.170],[1990.70,0.195],[1991.30,0.207],[1992.10,0.195],[1992.60,0.170],[1993.20,0.145],[1994.40,0.115],[1995.80,0.105],[1996.70,0.137],[1997.40,0.157],[1997.80,0.197],[1998.60,0.219],[1998.65,0.253],[1999.40,0.263],[2000.10,0.264],[2000.50,0.256],[2001.30,0.275],[2002.20,0.252],[2002.65,0.300],[2003.40,0.306],[2004.06,0.282],[2004.25,0.222],[2004.90,0.160],[2006.00,0.148],[2007.40,0.137],[2008.00,0.187],[2008.70,0.245],[2008.90,0.425],[2009.40,0.478],[2010.26,0.473],[2010.45,0.326],[2010.85,0.232],[2011.50,0.208],[2011.62,0.240],[2011.92,0.270],[2013.03,0.257],[2013.45,0.170],[2014.20,0.150],[2015.40,0.149],[2015.75,0.182],[2016.60,0.193],[2017.15,0.178],[2017.72,0.125],[2018.12,0.105],[2018.30,0.139],[2018.80,0.147],[2019.00,0.190]];

const vol80w = [[1981.57,0.194],[1982.30,0.187],[1982.58,0.175],[1983.00,0.218],[1983.20,0.222],[1984.14,0.206],[1984.40,0.175],[1985.00,0.159],[1985.97,0.147],[1986.70,0.163],[1987.38,0.187],[1987.74,0.190],[1987.80,0.341],[1988.09,0.373],[1989.30,0.372],[1989.35,0.230],[1989.64,0.179],[1990.35,0.167],[1990.60,0.198],[1991.27,0.210],[1992.05,0.198],[1992.60,0.167],[1993.20,0.147],[1994.46,0.115],[1995.20,0.119],[1995.86,0.107],[1996.70,0.139],[1997.40,0.159],[1997.83,0.198],[1998.54,0.222],[1998.70,0.258],[1999.39,0.266],[1999.50,0.250],[2000.10,0.274],[2000.30,0.262],[2000.86,0.254],[2001.27,0.282],[2001.82,0.282],[2002.10,0.262],[2002.44,0.266],[2002.72,0.306],[2003.48,0.310],[2004.03,0.282],[2004.31,0.218],[2005.00,0.159],[2005.97,0.147],[2006.66,0.139],[2007.56,0.139],[2008.04,0.190],[2008.73,0.254],[2008.94,0.429],[2009.36,0.483],[2010.32,0.478],[2010.53,0.329],[2010.95,0.238],[2011.56,0.210],[2011.91,0.274],[2012.30,0.258],[2013.15,0.258],[2013.57,0.171],[2014.26,0.151],[2015.37,0.151],[2015.78,0.183],[2016.61,0.194],[2017.16,0.183],[2017.71,0.127],[2018.13,0.107],[2018.30,0.139],[2018.82,0.147],[2019.00,0.190]];

const seriesLabels = ['Vol_1w', 'Vol_2w', 'Vol_3w', 'Vol_4w', 'Vol_8w', 'Vol_12w', 'Vol_16w', 'Vol_20w',
  'Vol_24w', 'Vol_28w', 'Vol_32w', 'Vol_36w', 'Vol_40w', 'Vol_44w', 'Vol_48w', 'Vol_52w',
  'Vol_56w', 'Vol_60w', 'Vol_64w', 'Vol_68w', 'Vol_72w', 'Vol_76w', 'Vol_80w'];

// y tick spacing and label decimals per panel
const yTickSteps = [0.25, 0.25, 0.25, 0.25, 0.1, 0.1, 0.1,
  0.2, 0.2, 0.2, 0.2, 0.2, 0.2, 0.2, 0.2, 0.2, 0.2, 0.2, 0.2, 0.2, 0.2, 0.2, 0.25];
const yTickDecimals = [2, 2, 2, 2, 1, 1, 1,
  1, 1, 1, 1, 1, 1, 1, 1, 1, 1, 1, 1, 1, 1, 1, 2];

// x ticks: labelled every 5 years, plus the extra unlabelled date ticks
const xMajorTicks = [1980, 1985, 1990, 1995, 2000, 2005, 2010, 2015, 2020];
const xExtraTicks = [1983.23, 1988.70, 1994.17, 1999.64, 2005.11, 2010.57, 2016.04];

// ---------------------------------------------------------------

Chart.defaults.font.family = "'DejaVu Sans', sans-serif";
Chart.defaults.font.size = 10;
Chart.defaults.color = '#000';

const zip = (xs, ys) => xs.map((x, i) => ({ x: x, y: ys[i] }));
const pairs = arr => arr.map(p => ({ x: p[0], y: p[1] }));
const merged = (a, b) => a.concat(b).sort((p, q) => p.x - q.x);

const allSeries = [
  merged(zip(shortDates, vol1w), zip(shortMidDates, vol1wMid)),
  merged(zip(shortDates, vol2w), zip(shortMidDates, vol2wMid)),
  merged(zip(shortDates, vol3w), zip(shortMidDates, vol3wMid)),
  merged(zip(shortDates, vol4w), zip(shortMidDates, vol4wMid)),
  pairs(vol8w), pairs(vol12w), pairs(vol16w), pairs(vol20w), pairs(vol24w), pairs(vol28w),
  pairs(vol32w), pairs(vol36w), pairs(vol40w), pairs(vol44w), pairs(vol48w), pairs(vol52w),
  pairs(vol56w), pairs(vol60w), pairs(vol64w), pairs(vol68w), pairs(vol72w), pairs(vol76w),
  pairs(vol80w)
];

// shared x range with 5% margins, like the original figure
const firstX = Math.min(...allSeries.map(s => s[0].x));
const lastX = Math.max(...allSeries.map(s => s[s.length - 1].x));
const xPad = (lastX - firstX) * 0.05;
const xTicks = xMajorTicks.concat(xExtraTicks).sort((a, b) => a - b);

// axes frame + matplotlib style legend box
const frameAndLegend = {
  id: 'frameAndLegend',
  afterDraw(chart) {
    const { ctx, chartArea: a } = chart;
    ctx.save();
    ctx.strokeStyle = '#000';
    ctx.lineWidth = 0.8;
    ctx.strokeRect(a.left, a.top, a.right - a.left, a.bottom - a.top);

    const label = chart.data.datasets[0].label;
    ctx.font = "10px 'DejaVu Sans'";
    const tw = ctx.measureText(label).width;
    const h = 19.5;
    const w = tw + 36;
    const bx = a.right - 5 - w;
    const by = a.top + 5;
    ctx.beginPath();
    ctx.roundRect(bx, by, w, h, 2.5);
    ctx.fillStyle = 'rgba(255,255,255,0.8)';
    ctx.fill();
    ctx.strokeStyle = '#d0d0d0';
    ctx.lineWidth = 1;
    ctx.stroke();

    ctx.beginPath();
    ctx.moveTo(bx + 3, by + h / 2);
    ctx.lineTo(bx + 24, by + h / 2);
    ctx.strokeStyle = 'blue';
    ctx.lineWidth = 1.5;
    ctx.stroke();

    ctx.fillStyle = '#000';
    ctx.textBaseline = 'middle';
    ctx.fillText(label, bx + 32, by + h / 2 + 0.5);
    ctx.restore();
  }
};

const wrap = document.getElementById('wrap');

allSeries.forEach((pts, i) => {
  const isLast = i === allSeries.length - 1;
  const rowTop = Math.round(10 + 42.9 * i);
  const xAxisH = isLast ? 46 : 10;
  const canvas = document.createElement('canvas');
  canvas.width = 1163;
  canvas.height = 8 + 36 + xAxisH;
  canvas.style.top = (rowTop - 8) + 'px';
  wrap.appendChild(canvas);

  const ys = pts.map(p => p.y);
  const lo = Math.min(...ys);
  const hi = Math.max(...ys);
  const yPad = (hi - lo) * 0.05;
  const step = yTickSteps[i];
  const dec = yTickDecimals[i];

  new Chart(canvas, {
    type: 'line',
    data: {
      datasets: [{
        label: seriesLabels[i],
        data: pts,
        borderColor: 'blue',
        borderWidth: 1.5,
        pointRadius: 0,
        fill: false,
        tension: 0
      }]
    },
    options: {
      responsive: false,
      animation: false,
      events: [],
      layout: { padding: { top: 8, right: 12, bottom: 0, left: 0 } },
      plugins: { legend: { display: false }, tooltip: { enabled: false } },
      scales: {
        x: {
          type: 'linear',
          min: firstX - xPad,
          max: lastX + xPad,
          border: { display: false },
          grid: { drawOnChartArea: false, drawTicks: true, tickLength: 3.5, tickWidth: 0.8, tickColor: '#000' },
          ticks: {
            display: isLast,
            autoSkip: false,
            maxRotation: 30,
            minRotation: 30,
            padding: 2,
            color: '#000',
            callback: v => (Number.isInteger(v) && v % 5 === 0) ? String(v) : ''
          },
          title: { display: isLast, text: 'Date', color: '#000', padding: { top: 2, bottom: 4 } },
          afterBuildTicks: scale => { scale.ticks = xTicks.map(v => ({ value: v })); },
          afterFit: scale => {
            scale.height = xAxisH;
            scale.paddingLeft = 0;
            scale.paddingRight = 0;
          }
        },
        y: {
          min: lo - yPad,
          max: hi + yPad,
          border: { display: false },
          grid: { drawOnChartArea: false, drawTicks: true, tickLength: 3.5, tickWidth: 0.8, tickColor: '#000' },
          ticks: { color: '#000', padding: 3.5, autoSkip: false, callback: v => Number(v).toFixed(dec) },
          afterBuildTicks: scale => {
            const out = [];
            const start = Math.ceil((scale.min - 1e-9) / step);
            for (let k = start; k * step <= scale.max + 1e-9; k++) {
              out.push({ value: +(k * step).toFixed(6) });
            }
            scale.ticks = out;
          },
          afterFit: scale => {
            scale.width = 36;
            scale.paddingTop = 0;
            scale.paddingBottom = 0;
          }
        }
      }
    },
    plugins: [frameAndLegend]
  });
});
</script>
</body>
</html>
